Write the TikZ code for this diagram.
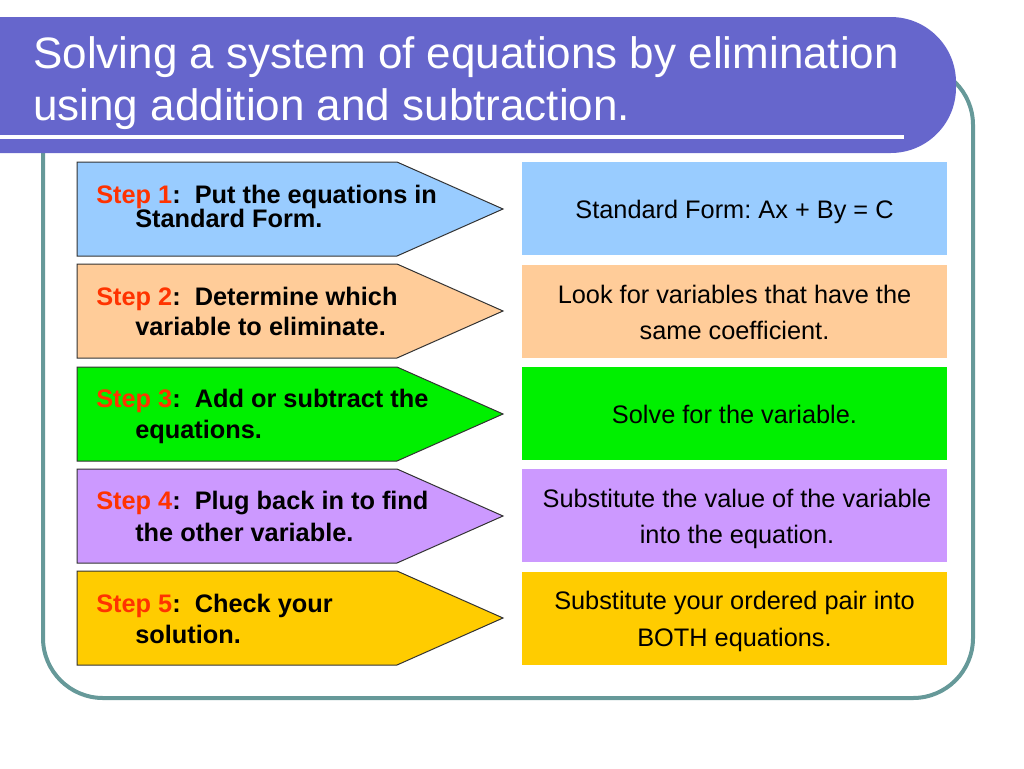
\documentclass[tikz,border=0pt]{standalone}
\usepackage{fontspec}
\setmainfont{Liberation Sans}
\frenchspacing
\definecolor{bannerc}{HTML}{6666CC}
\definecolor{framec}{HTML}{669999}
\definecolor{stepred}{HTML}{FF3300}
\definecolor{ca}{HTML}{99CCFF}
\definecolor{cb}{HTML}{FFCC99}
\definecolor{cc}{HTML}{00F000}
\definecolor{cd}{HTML}{CC99FF}
\definecolor{ce}{HTML}{FFCC00}
\newcommand\mystep[1]{\textcolor{stepred}{Step #1}:\ \ }
\begin{document}
\begin{tikzpicture}[x=0.75pt,y=-0.75pt,
  titletext/.style={anchor=base west,inner sep=0pt,text=white,font=\fontsize{33}{38}\selectfont},
  steptext/.style={anchor=base west,inner sep=0pt,font=\fontsize{19}{22}\selectfont\bfseries},
  infotext/.style={anchor=base,inner sep=0pt,font=\fontsize{19}{22}\selectfont},
  arrowshape/.style={draw=black!80,line width=0.75pt},
  infobox/.style={draw=none}]
\useasboundingbox (0,0) rectangle (1024,768);
% frame
\draw[framec,line width=3pt,rounded corners=45pt] (43,65) rectangle (973,698);
% banner
\fill[bannerc] (0,17) [rounded corners=49pt] -- (956,17) -- (956,153) [sharp corners] -- (0,153) -- cycle;
\draw[white,line width=3pt] (0,137) -- (904,137);
\node[titletext] (t1) at (33,68) {Solving a system of equations by elimination};
\node[titletext] (t2) at (33,120) {using addition and subtraction.};
% arrows
\foreach \t/\c in {162/ca,264/cb,367/cc,469/cd,571/ce}{
  \draw[arrowshape,fill=\c] (77,\t) -- (397,\t) -- (503,\t+47) -- (397,\t+94) -- (77,\t+94) -- cycle;
}
\foreach \t/\c in {162/ca,265/cb,367/cc,469/cd,572/ce}{
  \fill[infobox,\c] (522,\t) rectangle (947,\t+93);
}
% step texts
\node[steptext] (s1a) at (96,203) {\mystep{1}Put the equations in};
\node[steptext] (s1b) at (135,227) {Standard Form.};
\node[steptext] (s2a) at (96,305) {\mystep{2}Determine which};
\node[steptext] (s2b) at (135,335) {variable to eliminate.};
\node[steptext] (s3a) at (96,407) {\mystep{3}Add or subtract the};
\node[steptext] (s3b) at (135,438) {equations.};
\node[steptext] (s4a) at (96,509) {\mystep{4}Plug back in to find};
\node[steptext] (s4b) at (135,541) {the other variable.};
\node[steptext] (s5a) at (96,612) {\mystep{5}Check your};
\node[steptext] (s5b) at (135,643) {solution.};
% info texts
\node[infotext] (r1) at (734.5,218) {Standard Form: Ax + By = C};
\node[infotext] (r2a) at (734.5,303) {Look for variables that have the};
\node[infotext] (r2b) at (734.5,339) {same coefficient.};
\node[infotext] (r3) at (734.5,423) {Solve for the variable.};
\node[infotext] (r4a) at (737,507) {Substitute the value of the variable};
\node[infotext] (r4b) at (737,543) {into the equation.};
\node[infotext] (r5a) at (734.5,609) {Substitute your ordered pair into};
\node[infotext] (r5b) at (734.5,646) {BOTH equations.};
\end{tikzpicture}
\end{document}
